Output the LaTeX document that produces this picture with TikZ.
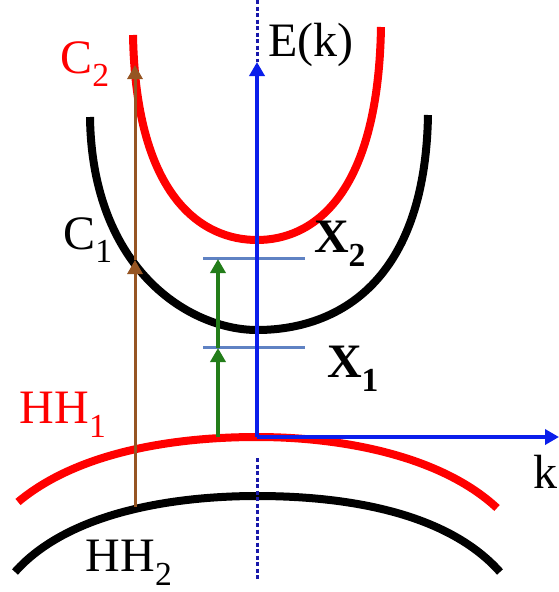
\documentclass[tikz,border=0pt]{standalone}
\usepackage{fontspec}
\setmainfont{LiberationSerif}[Extension=.ttf,UprightFont=*-Regular,BoldFont=*-Bold]
\usetikzlibrary{arrows.meta}
\definecolor{axisblue}{RGB}{10,30,235}
\definecolor{dotblue}{RGB}{25,25,170}
\definecolor{brownline}{RGB}{150,85,35}
\definecolor{greenline}{RGB}{35,125,25}
\definecolor{levelblue}{RGB}{95,130,195}
\begin{document}
\begin{tikzpicture}[x=1pt,y=-1pt,>={Triangle[length=14pt,width=15pt]},
band/.style={line width=8pt},
lbl/.style={inner sep=0pt,font=\fontsize{48}{52}\selectfont}]
\useasboundingbox (0,0) rectangle (559,592);
\coordinate (O) at (257,437);
\coordinate (Etop) at (257,62);
\coordinate (kend) at (559,437);
\coordinate (dtop) at (257,0);
\coordinate (dlow) at (257,458);
\coordinate (dbot) at (257,580);
% bands
\draw[band,red](133,35)..controls(136,200)and(204,240)..(257,240)..controls(310,240)and(378,200)..(381,27);
\draw[band](90,117)..controls(92,270)and(190,330)..(257,330)..controls(330,330)and(425,290)..(428,115);
\draw[band,red](18,502)..controls(80,450)and(180,437)..(257,437)..controls(340,437)and(440,455)..(497,508);
\draw[band](15,572)..controls(70,510)and(180,496)..(257,496)..controls(340,496)and(445,510)..(500,572);
% exciton levels
\coordinate (X1a) at (203,347);
\coordinate (X1b) at (305,347);
\coordinate (X2a) at (203,258);
\coordinate (X2b) at (305,258);
\draw[levelblue,line width=3pt](X1a)--(X1b) (X2a)--(X2b);
% axes
\draw[dotblue,line width=3pt,dash pattern=on 4pt off 2.5pt](dtop)--(Etop) (dlow)--(dbot);
\draw[axisblue,line width=3.5pt,->](O)--(Etop);
\draw[axisblue,line width=3.5pt,->](O)--(kend);
% transitions
\coordinate (hh2) at (135,507);
\coordinate (c1) at (135,260);
\coordinate (c2) at (135,65);
\coordinate (hh1) at (218,437);
\coordinate (x1) at (218,348);
\coordinate (x2) at (218,259);
\draw[brownline,line width=3pt,->](hh2)--(c1);
\draw[brownline,line width=3pt,->](c1)--(c2);
\draw[greenline,line width=3.5pt,->](hh1)--(x1);
\draw[greenline,line width=3.5pt,->](x1)--(x2);
% labels
\node[lbl] (Elbl) at (311,45) {E(k)};
\node[lbl] (klbl) at (545,472) {k};
\node[lbl,red] (C2lbl) at (85,64) {C\textsubscript{2}};
\node[lbl] (C1lbl) at (88,240) {C\textsubscript{1}};
\node[lbl,red] (HH1lbl) at (63,415) {HH\textsubscript{1}};
\node[lbl] (HH2lbl) at (129,563) {HH\textsubscript{2}};
\node[lbl] (X2lbl) at (340,244) {\textbf{X\textsubscript{2}}};
\node[lbl] (X1lbl) at (353,369) {\textbf{X\textsubscript{1}}};
\end{tikzpicture}
\end{document}
